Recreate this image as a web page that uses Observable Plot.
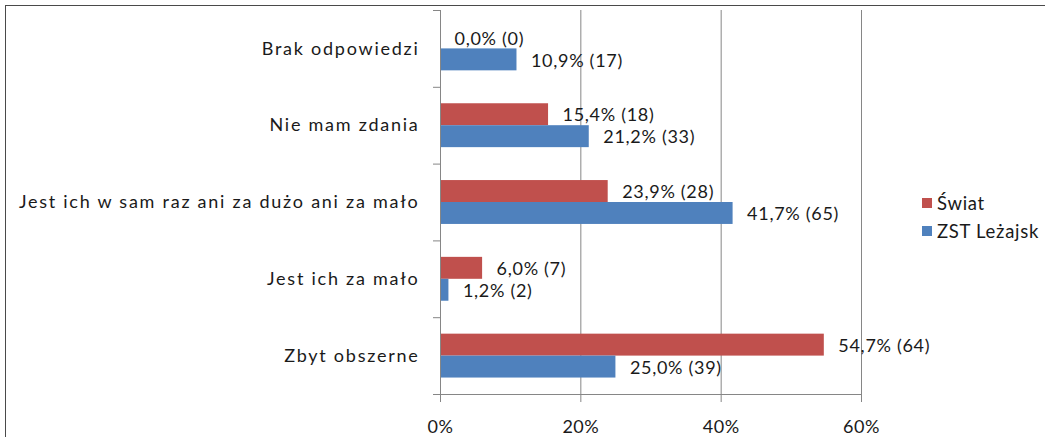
<!DOCTYPE html>
<html>
<head>
<meta charset="utf-8">
<script src="https://cdn.jsdelivr.net/npm/d3@7"></script>
<script src="https://cdn.jsdelivr.net/npm/@observablehq/plot@0.6"></script>
<style>
  html, body { margin: 0; padding: 0; background: #fff; overflow: hidden; }
  #wrap { position: relative; width: 1045px; height: 437px; overflow: hidden; font-family: Lato, "DejaVu Sans", sans-serif; }
  #frame { position: absolute; left: 5px; top: 5px; width: 2000px; height: 1000px; border: 1.5px solid #4a4a4a; box-sizing: border-box; pointer-events: none; }
  #chart { position: absolute; left: 0; top: 0; }
  #legend { position: absolute; left: 922px; top: 189px; font-size: 18.5px; letter-spacing: 0.7px; color: #1a1a1a; white-space: nowrap; }
  .item { display: flex; align-items: center; height: 28px; }
  .sw { width: 10px; height: 10px; margin-right: 5px; }
  g[aria-label="y-axis tick label"] text { letter-spacing: 1.75px; }
  g[aria-label="text"] text { letter-spacing: 0.7px; }
  g[aria-label="x-axis tick label"] text { letter-spacing: 0.5px; }
</style>
</head>
<body>
<div id="wrap">
  <div id="chart"></div>
  <div id="frame"></div>
  <div id="legend"></div>
</div>
<script>
// ---- data ----
const categories = [
  "Brak odpowiedzi",
  "Nie mam zdania",
  "Jest ich w sam raz ani za dużo ani za mało",
  "Jest ich za mało",
  "Zbyt obszerne"
];
const series = ["Świat", "ZST Leżajsk"];
const swiatPct = [0.0, 15.4, 23.9, 6.0, 54.7];
const swiatN   = [0, 18, 28, 7, 64];
const zstPct   = [10.9, 21.2, 41.7, 1.2, 25.0];
const zstN     = [17, 33, 65, 2, 39];
const xTicks   = [0, 20, 40, 60];
const colors   = ["#C0504D", "#4F81BD"];

// ---- build table ----
const gapWidth = 1.5;                 // Excel gap width 150%
const bw = 1 / (series.length + gapWidth);
const rows = [];
categories.forEach((c, i) => {
  [[swiatPct, swiatN], [zstPct, zstN]].forEach(([p, n], s) => {
    const y1 = i + gapWidth / 2 * bw + s * bw;
    rows.push({cat: c, series: series[s], value: p[i], n: n[i], y1, y2: y1 + bw, ym: y1 + bw / 2});
  });
});
const fmt = d => d.value.toFixed(1).replace(".", ",") + "% (" + d.n + ")";

const chart = Plot.plot({
  width: 1045,
  height: 437,
  marginLeft: 440,
  marginRight: 184,
  marginTop: 10,
  marginBottom: 43,
  style: {fontFamily: "Lato, sans-serif", fontSize: "18px", color: "#1a1a1a", background: "transparent"},
  x: {domain: [0, 60]},
  y: {domain: [0, categories.length], reverse: true},
  color: {domain: series, range: colors},
  marks: [
    Plot.ruleX(xTicks.slice(1), {stroke: "#868686", strokeWidth: 1}),
    Plot.rectX(rows, {x1: 0, x2: "value", y1: "y1", y2: "y2", fill: "series"}),
    Plot.text(rows, {x: "value", y: "ym", text: fmt, textAnchor: "start", dx: 14, dy: 1, fontSize: 18, fill: "#1a1a1a"}),
    Plot.ruleX([0], {stroke: "#868686"}),
    Plot.ruleY([categories.length], {stroke: "#868686"}),
    Plot.axisY(d3.range(0, categories.length + 1), {tickSize: 7, tickFormat: () => "", stroke: "#868686", label: null}),
    Plot.axisY(categories.map((c, i) => i + 0.5), {tickSize: 0, tickPadding: 21, tickFormat: d => categories[Math.floor(d)], fontSize: 18, fill: "#1a1a1a", label: null}),
    Plot.axisX(xTicks, {tickSize: 8, tickPadding: 18, tickFormat: d => d + "%", stroke: "#868686", fontSize: 18, fill: "#1a1a1a", label: null})
  ]
});
document.getElementById("chart").appendChild(chart);

// legend
const lg = document.getElementById("legend");
series.forEach((s, i) => {
  const it = document.createElement("div");
  it.className = "item";
  const sw = document.createElement("span");
  sw.className = "sw";
  sw.style.background = colors[i];
  const tx = document.createElement("span");
  tx.textContent = s;
  it.appendChild(sw); it.appendChild(tx);
  lg.appendChild(it);
});
</script>
</body>
</html>
